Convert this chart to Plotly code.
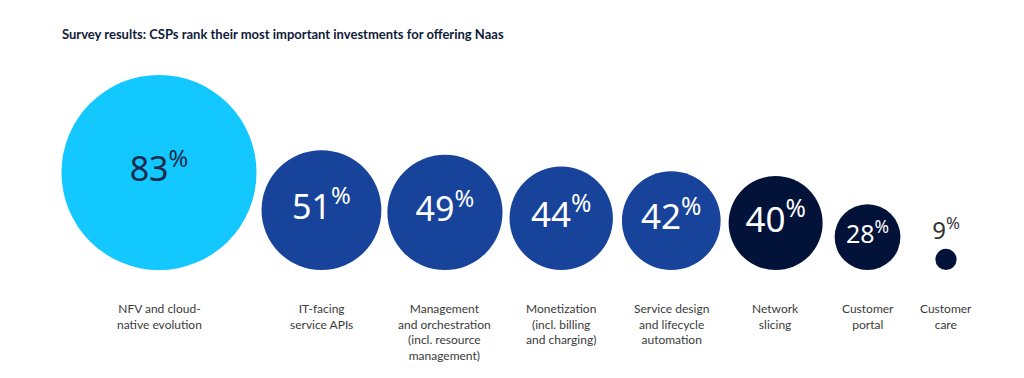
import plotly.graph_objects as go

# ---- data ----
categories = [
    "NFV and cloud-<br>native evolution",
    "IT-facing<br>service APIs",
    "Management<br>and orchestration<br>(incl. resource<br>management)",
    "Monetization<br>(incl. billing<br>and charging)",
    "Service design<br>and lifecycle<br>automation",
    "Network<br>slicing",
    "Customer<br>portal",
    "Customer<br>care",
]
values = [83, 51, 49, 44, 42, 40, 28, 9]
title_text = "Survey results: CSPs rank their most important investments for offering Naas"

# ---- styles / layout helpers ----
fill_colors = ["#12C8FF", "#17449A", "#17449A", "#17449A", "#17449A", "#021238", "#021238", "#021238"]
text_colors = ["#1B2B4B", "white", "white", "white", "white", "white", "white", "#333333"]
text_sizes = [34, 34, 34, 35, 35, 35, 25, 24]
text_pos = ["middle center"] * 7 + ["top center"]
gaps = [5, 6, 7, 9, 8, 12, 35]   # px between neighbouring circles
PX_PER_PCT = 1.175               # circle radius in px per percentage point
first_center = 159

radii = [v * PX_PER_PCT for v in values]
xs = [first_center]
for i in range(1, len(values)):
    xs.append(xs[-1] + radii[i - 1] + gaps[i - 1] + radii[i])

W, H = 1024, 378
T = 40
BASE = 270                       # pixel row of circle bottoms
y_top = BASE - T
y_bottom = -(H - BASE)

labels = [f"{v}<sup>%</sup>" for v in values]

fig = go.Figure()
fig.add_trace(go.Scatter(
    x=xs,
    y=radii,
    mode="markers+text",
    marker=dict(size=[2 * r for r in radii], color=fill_colors, line=dict(width=0), opacity=1),
    text=labels,
    textposition=text_pos,
    textfont=dict(family="Noto Sans", size=text_sizes, color=text_colors),
    hoverinfo="skip",
    cliponaxis=False,
))

for x, c in zip(xs, categories):
    fig.add_annotation(
        x=x, y=-29, xref="x", yref="y", text=c, showarrow=False,
        xanchor="center", yanchor="top", align="center",
        font=dict(family="Lato", size=12, color="#3A3A3A"),
    )

fig.update_layout(
    width=W, height=H,
    margin=dict(l=0, r=0, t=T, b=0),
    paper_bgcolor="white", plot_bgcolor="white",
    showlegend=False,
    title=dict(
        text=f"<b>{title_text}</b>",
        x=62 / W, xanchor="left", xref="paper",
        y=1 - 34 / H, yanchor="middle", yref="container",
        font=dict(family="Lato", size=13, color="#0F1C3A"),
    ),
    xaxis=dict(range=[0, W], visible=False, fixedrange=True),
    yaxis=dict(range=[y_bottom, y_top], visible=False, fixedrange=True),
)

fig.write_html("out.html", config={"displayModeBar": False},
               post_script="document.body.style.margin='0';")
